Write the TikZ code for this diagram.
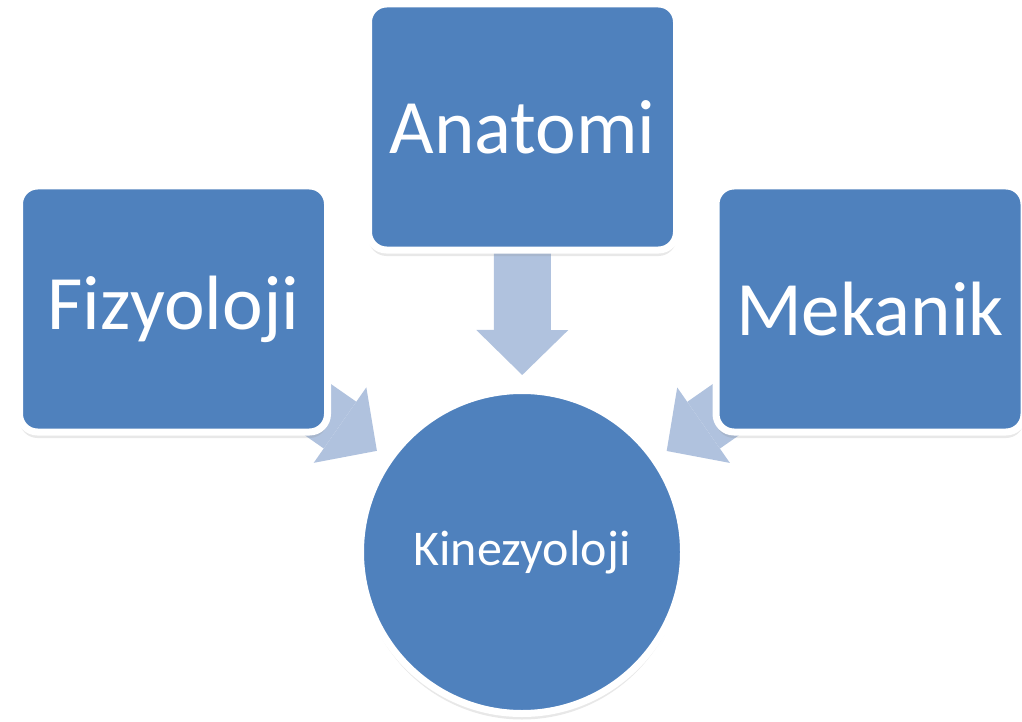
\documentclass[tikz,border=0pt]{standalone}
\usepackage{fontspec}
\setmainfont{Carlito}
\usetikzlibrary{arrows.meta,calc,shadows,backgrounds}

\definecolor{boxblue}{RGB}{79,129,189}
\definecolor{flowblue}{RGB}{176,194,222}

\tikzset{
  topic/.style={rectangle, rounded corners=18pt, fill=boxblue, draw=white,
    line width=7pt, minimum width=308pt, minimum height=246pt, inner sep=0pt,
    text=white, font=\fontsize{77}{80}\selectfont,
    drop shadow={shadow xshift=0pt, shadow yshift=-6pt, opacity=0.18}},
  core/.style={circle, fill=boxblue, draw=white, line width=7pt,
    minimum size=323pt, inner sep=0pt, text=white,
    font=\fontsize{50}{54}\selectfont,
    drop shadow={shadow xshift=0pt, shadow yshift=-6pt, opacity=0.18}},
  flow/.style={flowblue, line width=57pt,
    -{Triangle[width=92pt,length=45pt,line width=0pt]}}
}

\begin{document}
\begin{tikzpicture}[x=1pt,y=-1pt]
  \useasboundingbox (0,0) rectangle (1022,722);

  \node[topic] (anat) at (522.5,127) {Anatomi};
  \node[topic] (fizy) at (173.5,309) {Fizyoloji};
  \node[topic] (mek) at (870,309) {Mekanik};
  \node[core] (kinez) at (522,552) {Kinezyoloji};

  % block arrows behind the boxes
  \begin{scope}[on background layer]
    \draw[flow] (anat.center) -- ($(anat.center)!248pt!(kinez.center)$);
    \draw[flow] (fizy.center) -- ($(fizy.center)!248pt!(kinez.center)$);
    \draw[flow] (mek.center) -- ($(mek.center)!248pt!(kinez.center)$);
  \end{scope}
\end{tikzpicture}
\end{document}
